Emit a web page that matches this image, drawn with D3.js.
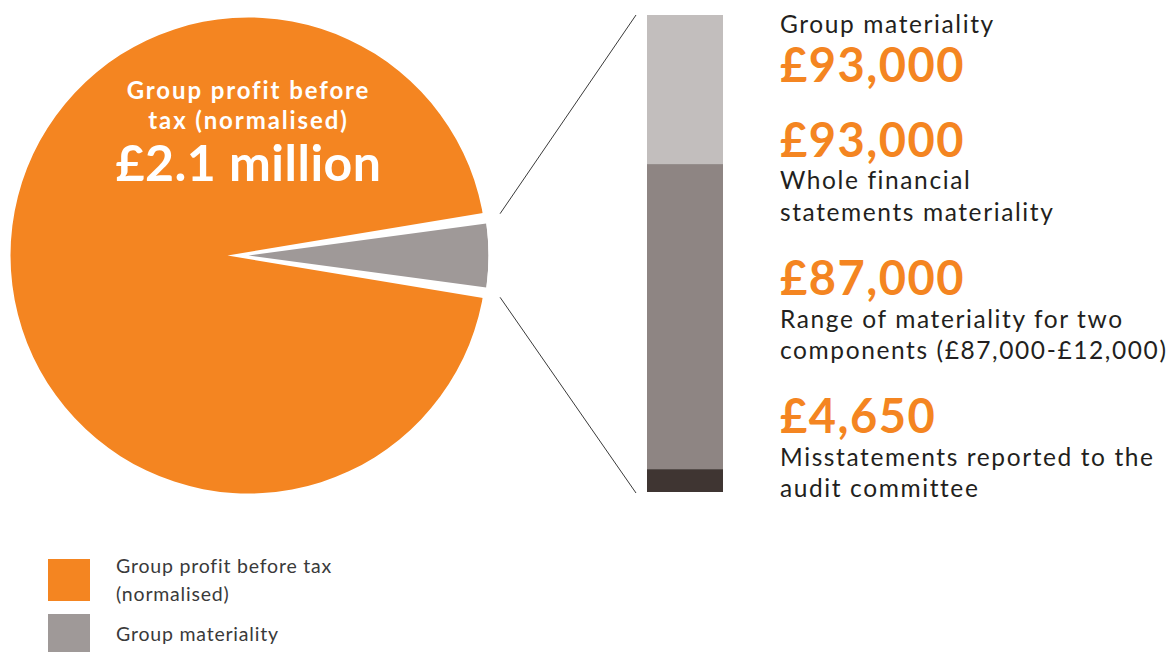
<html>
<head>
<title>Materiality</title>
<script src="https://d3js.org/d3.v7.min.js"></script>
<style>
  body { margin: 0; background: #fff; }
  svg text { font-family: "Lato", "Noto Sans", sans-serif; }
</style>
</head>
<body>
<div id="chart"></div>
<script>
// chart data
var pieLabels = ["Group profit before tax (normalised)", "Group materiality"];
var pieValues = [2100000, 93000];
var pieColors = ["#f48521", "#9f9998"];

// bar: stacked bands, in £ (top band edge)
var barBreaks = [0, 4650, 64000, 93000];
var barColors = ["#3f3532", "#8e8583", "#c2bebd"];

var figures = ["£93,000", "£93,000", "£87,000", "£4,650"];
var captions = [
  ["Group materiality"],
  ["Whole financial", "statements materiality"],
  ["Range of materiality for two", "components (£87,000-£12,000)"],
  ["Misstatements reported to the", "audit committee"]
];
var pieTitle = ["Group profit before", "tax (normalised)"];
var pieFigure = "£2.1 million";
var legendLines = [["Group profit before tax", "(normalised)"], ["Group materiality"]];

var W = 1173, H = 652;
var svg = d3.select("#chart").append("svg")
  .attr("width", W).attr("height", H);

var cx = 248.5, cy = 255.5, R = 238;

// gray slice centred on 3 o'clock
var total = d3.sum(pieValues);
var a = 2 * Math.PI * pieValues[1] / total;
var start = Math.PI / 2 + a / 2 - 2 * Math.PI;
var pie = d3.pie().sort(null).startAngle(start).endAngle(start + 2 * Math.PI);
var arcs = pie(pieValues);

svg.append("clipPath").attr("id", "disc")
  .append("circle").attr("cx", cx).attr("cy", cy).attr("r", R + 2);

var g = svg.append("g").attr("clip-path", "url(#disc)");

g.append("path")
  .attr("transform", "translate(" + cx + "," + cy + ")")
  .attr("d", d3.arc().innerRadius(0).outerRadius(R)(arcs[0]))
  .attr("fill", pieColors[0]);

// white gap around the gray slice
var pad = 1.8 * Math.PI / 180;
g.append("path")
  .attr("transform", "translate(" + (cx - 21) + "," + cy + ")")
  .attr("d", d3.arc().innerRadius(0).outerRadius(R + 40)
    .startAngle(arcs[1].startAngle - pad).endAngle(arcs[1].endAngle + pad)())
  .attr("fill", "#fff");

g.append("path")
  .attr("transform", "translate(" + cx + "," + cy + ")")
  .attr("d", d3.arc().innerRadius(0).outerRadius(R + 2)(arcs[1]))
  .attr("fill", pieColors[1]);

// label inside the pie
var lab = svg.append("g").attr("fill", "#fff").attr("text-anchor", "middle");
pieTitle.forEach(function (t, i) {
  lab.append("text").attr("x", cx).attr("y", 99 + i * 30)
    .attr("font-size", 24).attr("font-weight", 700)
    .attr("letter-spacing", 1.9).text(t);
});
lab.append("text").attr("x", cx).attr("y", 181)
  .attr("font-size", 50).attr("font-weight", 700)
  .attr("letter-spacing", 0.5).text(pieFigure);

// bar
var barX = 647, barW = 76;
var y = d3.scaleLinear().domain([0, barBreaks[barBreaks.length - 1]]).range([493, 15]);
var bands = barColors.map(function (c, i) {
  return { lo: barBreaks[i], hi: barBreaks[i + 1], color: c };
});
svg.selectAll(".band").data(bands).enter().append("rect")
  .attr("class", "band")
  .attr("x", barX).attr("width", barW)
  .attr("y", function (d) { return y(d.hi); })
  .attr("height", function (d, i) { return y(d.lo) - y(d.hi) - (i == 0 ? 1 : 0); })
  .attr("fill", function (d) { return d.color; });

// zoom lines from slice to bar
var ang = a / 2 + pad;
var r0 = R + 17;
var lines = [
  [cx + r0 * Math.cos(ang), cy - r0 * Math.sin(ang), barX - 11, y(barBreaks[barBreaks.length - 1])],
  [cx + r0 * Math.cos(ang), cy + r0 * Math.sin(ang), barX - 11, y(0)]
];
svg.selectAll(".zoom").data(lines).enter().append("line")
  .attr("x1", function (d) { return d[0]; }).attr("y1", function (d) { return d[1]; })
  .attr("x2", function (d) { return d[2]; }).attr("y2", function (d) { return d[3]; })
  .attr("stroke", "#3a3a3a").attr("stroke-width", 1);

// right-hand text
var tx = 780;
var txt = svg.append("g");
function cap(t, yy) {
  txt.append("text").attr("x", tx).attr("y", yy)
    .attr("font-size", 24.5).attr("letter-spacing", 1.6).attr("fill", "#231f20").text(t);
}
function fig(t, yy) {
  txt.append("text").attr("x", tx).attr("y", yy)
    .attr("font-size", 47).attr("font-weight", 700).attr("letter-spacing", 1.5)
    .attr("fill", pieColors[0]).text(t);
}
cap(captions[0][0], 33);
fig(figures[0], 82);
fig(figures[1], 157);
cap(captions[1][0], 189); cap(captions[1][1], 221);
fig(figures[2], 295);
cap(captions[2][0], 328); cap(captions[2][1], 359);
fig(figures[3], 433);
cap(captions[3][0], 466); cap(captions[3][1], 497);

// legend
var leg = svg.append("g");
var legTop = [559, 614];
var legBase = [573, 641];
legendLines.forEach(function (rows, i) {
  leg.append("rect").attr("x", 48).attr("y", legTop[i]).attr("width", 42).attr("height", 42)
    .attr("fill", pieColors[i]);
  rows.forEach(function (t, j) {
    leg.append("text").attr("x", 116).attr("y", legBase[i] + j * 28)
      .attr("font-size", 19.5).attr("letter-spacing", 0.8)
      .attr("fill", "#3a3a3a").text(t);
  });
});
</script>
</body>
</html>
